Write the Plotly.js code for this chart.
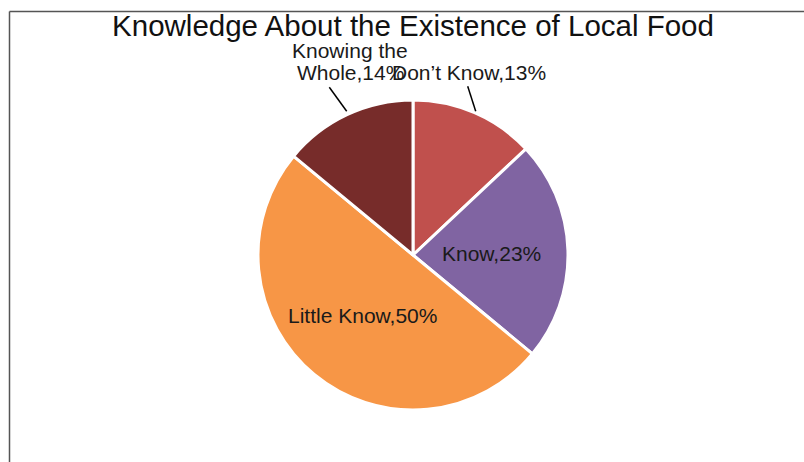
<!DOCTYPE html>
<html>
<head>
<meta charset="utf-8">
<script src="https://cdn.plot.ly/plotly-3.0.1.min.js"></script>
<style>
html,body{margin:0;padding:0;background:#fff;}
#chart{width:804px;height:462px;}
</style>
</head>
<body>
<div id="chart"></div>
<script>
var categories = ["Don\u2019t Know", "Know", "Little Know", "Knowing the Whole"];
var values = [13, 23, 50, 14];
var colors = ["#C0504D", "#8064A2", "#F79646", "#772C2A"];
var chartTitle = "Knowledge About the Existence of Local Food";

function px(x){ return x / 804; }
function py(y){ return 1 - y / 462; }

var labelText = categories.map(function(c, i){ return c + "," + values[i] + "%"; });

var font = {family: "Liberation Sans, Arial, sans-serif", size: 21, color: "#1a1a1a"};

var annotations = [
  {text: labelText[0], x: px(469), y: py(72)},
  {text: labelText[1], x: px(491), y: py(253)},
  {text: labelText[2], x: px(362), y: py(315)},
  {text: "Knowing the", x: px(350), y: py(50)},
  {text: labelText[3].replace("Knowing the ", ""), x: px(350), y: py(72)}
].map(function(a){
  return {text: a.text, x: a.x, y: a.y, xref: "paper", yref: "paper",
          xanchor: "center", yanchor: "middle", showarrow: false, font: font};
});

var lineStyle = {color: "#000", width: 1.5};
var shapes = [
  {type: "line", xref: "paper", yref: "paper", x0: px(329.3), y0: py(87.3), x1: px(346.7), y1: py(111.3), line: lineStyle},
  {type: "line", xref: "paper", yref: "paper", x0: px(467.7), y0: py(86.3), x1: px(475.7), y1: py(111.3), line: lineStyle},
  {type: "line", xref: "paper", yref: "paper", x0: px(9.5), y0: 0, x1: px(9.5), y1: py(11.5), line: {color: "#555", width: 1.5}},
  {type: "line", xref: "paper", yref: "paper", x0: px(9.5), y0: py(11.5), x1: 1, y1: py(11.5), line: {color: "#555", width: 1.5}}
];

var trace = {
  type: "pie",
  labels: categories,
  values: values,
  sort: false,
  direction: "clockwise",
  rotation: 0,
  textinfo: "none",
  hoverinfo: "label+percent",
  marker: {colors: colors, line: {color: "#fff", width: 3}},
  domain: {x: [258/804, 568/804], y: [1 - 410/462, 1 - 100/462]},
  showlegend: false
};

var layout = {
  width: 804, height: 462,
  margin: {l: 0, r: 0, t: 0, b: 0},
  paper_bgcolor: "#fff",
  title: {text: chartTitle, x: px(413), xanchor: "center", y: py(26), yanchor: "middle",
          font: {family: "Liberation Sans, Arial, sans-serif", size: 29.5, color: "#111"}},
  annotations: annotations,
  shapes: shapes,
  showlegend: false
};

Plotly.newPlot("chart", [trace], layout, {displayModeBar: false, staticPlot: true});
</script>
</body>
</html>
